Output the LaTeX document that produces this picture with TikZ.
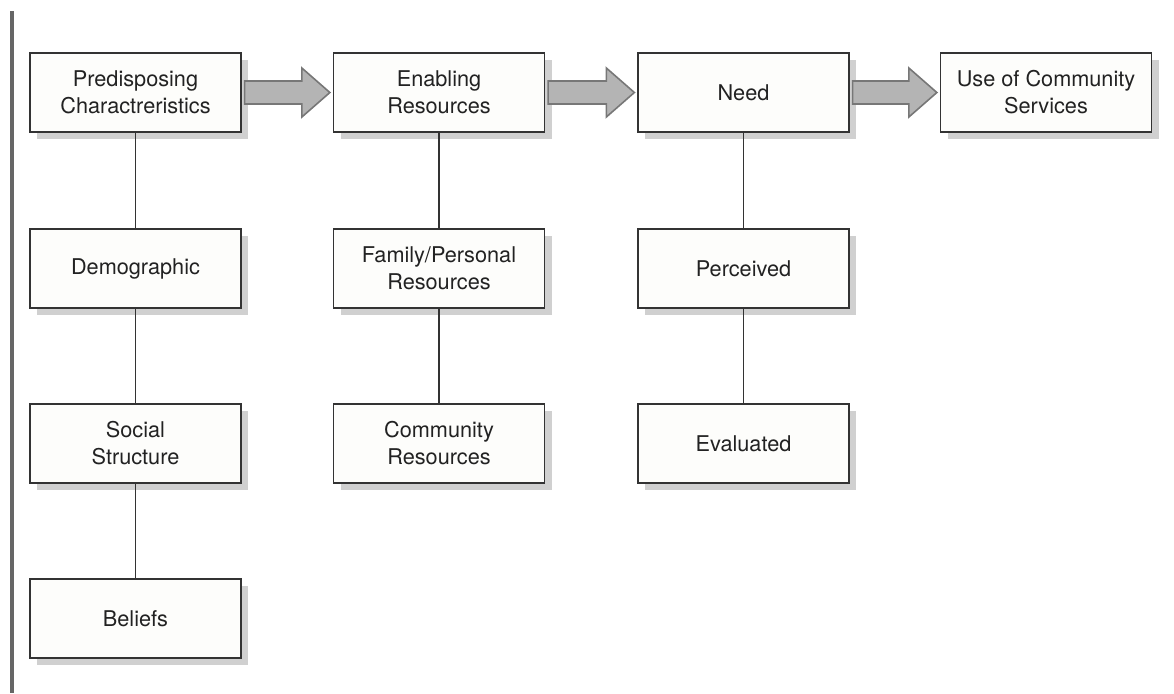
\documentclass[tikz,border=0pt]{standalone}
\usepackage{fontspec}
\setmainfont{TeX Gyre Heros}
\usetikzlibrary{shadows,calc}
\definecolor{boxline}{HTML}{333333}
\definecolor{boxfill}{HTML}{FDFDFB}
\definecolor{shadowgray}{HTML}{D0D0D0}
\definecolor{arrowfill}{HTML}{B4B4B4}
\definecolor{arrowline}{HTML}{777777}
\definecolor{bargray}{HTML}{666666}
\definecolor{txt}{HTML}{222222}
\tikzset{
  box/.style={draw=boxline, fill=boxfill, line width=0.65pt,
    minimum width=105.5pt, minimum height=39.5pt, inner sep=0pt,
    align=center, text=txt, font=\fontsize{10.85}{13.5}\selectfont,
    drop shadow={shadow xshift=3.5pt, shadow yshift=-3.5pt, fill=shadowgray, opacity=1}},
  link/.style={draw=boxline, line width=0.6pt},
  bigarrow/.style={fill=arrowfill, draw=arrowline, line width=0.8pt, line join=miter},
  sidebar/.style={draw=bargray, line width=2pt}
}
\begin{document}
\begin{tikzpicture}[x=0.5pt,y=-0.5pt]
\useasboundingbox (0,0) rectangle (1174,693);
\coordinate (bartop) at (12,11);
\coordinate (barbot) at (12,693);
\draw[sidebar] (bartop) -- (barbot);

% column 1
\node[box] (pre) at (135.5,92.5) {Predisposing\\Charactreristics};
\node[box] (dem) at (135.5,268.5) {Demographic};
\node[box] (soc) at (135.5,443.5) {Social\\Structure};
\node[box] (bel) at (135.5,618.5) {Beliefs};
% column 2
\node[box] (ena) at (439,92.5) {Enabling\\Resources};
\node[box] (fam) at (439,268.5) {Family/Personal\\Resources};
\node[box] (com) at (439,443.5) {Community\\Resources};
% column 3
\node[box] (need) at (743.5,92.5) {Need};
\node[box] (per) at (743.5,268.5) {Perceived};
\node[box] (eva) at (743.5,443.5) {Evaluated};
% column 4
\node[box] (use) at (1046,92.5) {Use of Community\\Services};

% vertical links
\draw[link] (pre.south) -- (dem.north);
\draw[link] (dem.south) -- (soc.north);
\draw[link] (soc.south) -- (bel.north);
\draw[link] (ena.south) -- (fam.north);
\draw[link] (fam.south) -- (com.north);
\draw[link] (need.south) -- (per.north);
\draw[link] (per.south) -- (eva.north);

% block arrows
\foreach \a/\b in {pre/ena, ena/need, need/use}{
  \draw[bigarrow] ($(\a.east)+(3,-11.5)$) -- ($(\b.west)+(-31,-11.5)$)
    -- ($(\b.west)+(-31,-24.5)$) -- ($(\b.west)+(-3,0)$)
    -- ($(\b.west)+(-31,24.5)$) -- ($(\b.west)+(-31,11.5)$)
    -- ($(\a.east)+(3,11.5)$) -- cycle;
}
\end{tikzpicture}
\end{document}
